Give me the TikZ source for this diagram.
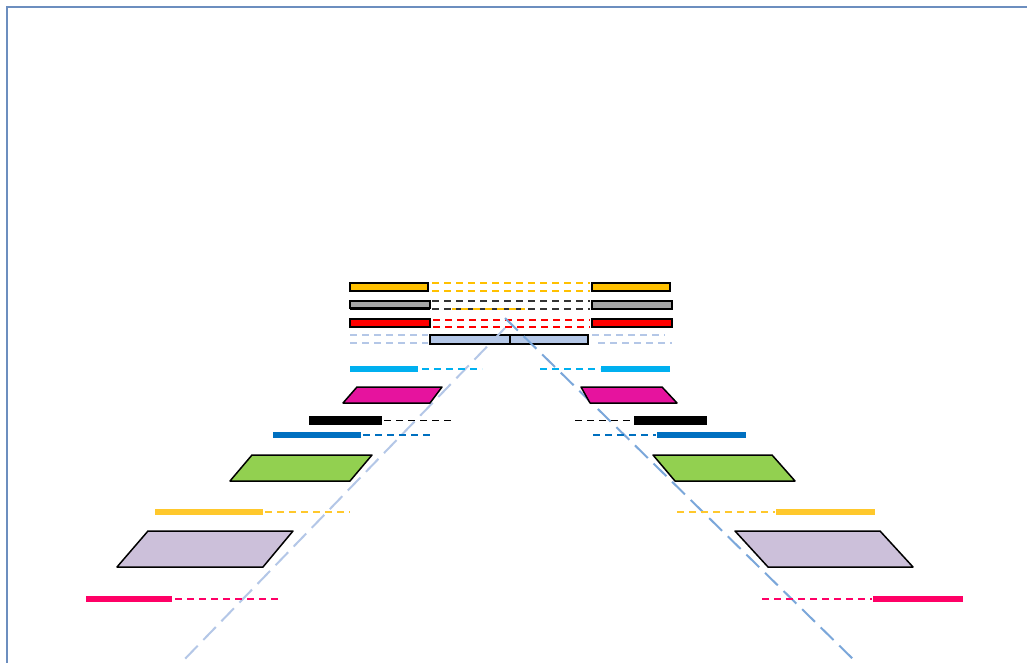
\documentclass[tikz,border=0pt]{standalone}
\begin{document}
\begin{tikzpicture}[x=1pt,y=-1pt,
  bar/.style={line width=6.5pt},
  dsh/.style={line width=1.9pt,dash pattern=on 7pt off 5pt},
  topbar/.style={draw=black,line width=1.6pt},
  para/.style={draw=black,line width=1.5pt,line join=round},
  diag/.style={line width=2pt,dash pattern=on 18pt off 8pt}]
\definecolor{frame}{HTML}{6C8EBF}
\definecolor{cyel}{HTML}{FFC000}
\definecolor{cgray}{HTML}{A6A6A6}
\definecolor{cred}{HTML}{FF0000}
\definecolor{cpale}{HTML}{B4C7E7}
\definecolor{cdiag}{HTML}{7BA7DA}
\definecolor{ccyan}{HTML}{00B0F0}
\definecolor{cmag}{HTML}{E6139E}
\definecolor{cblue}{HTML}{0070C0}
\definecolor{cgreen}{HTML}{92D050}
\definecolor{cgold}{HTML}{FFC82C}
\definecolor{clav}{HTML}{CCC0DA}
\definecolor{cpink}{HTML}{FF0066}
\useasboundingbox (0,0) rectangle (1027,663);
\clip (0,0) rectangle (1027,663);
\fill[white] (0,0) rectangle (1027,663);
% frame
\draw[frame,line width=2pt] (7,680) -- (7,7) -- (1040,7);

% top dashed rows
\draw[dsh,cyel] (432,283) -- (590,283);
\draw[dsh,cyel] (432,291) -- (590,291);
\draw[dsh,black!80] (432,301) -- (590,301);
\draw[dsh,black!80] (432,309) -- (590,309);
\draw[dsh,cyel,dash phase=3pt] (452,309) -- (525,309);
\draw[dsh,cred] (433,320) -- (590,320);
\draw[dsh,cred] (433,327) -- (590,327);
\draw[dsh,cpale] (350,335) -- (428,335);
\draw[dsh,cpale] (350,343) -- (428,343);
\draw[dsh,cpale] (592,335) -- (665,335);
\draw[dsh,cpale] (598,343) -- (672,343);

% top bars
\draw[topbar,fill=cyel] (350,283) rectangle (428,291);
\draw[topbar,fill=cyel] (592,283) rectangle (670,291);
\draw[topbar,fill=cgray] (350,301) rectangle (430,308);
\draw[black,line width=1.2pt] (350,309.5) -- (430,309.5);
\draw[topbar,fill=cgray] (592,301) rectangle (672,309);
\draw[topbar,fill=cred] (350,319) rectangle (430,327);
\draw[topbar,fill=cred] (592,319) rectangle (672,327);
\draw[draw=black,line width=1.3pt,fill=cpale] (430,335) rectangle (510,344);
\draw[draw=black,line width=1.3pt,fill=cpale] (510,335) rectangle (588,344);
\draw[black,line width=2pt] (510,335) -- (510,344);

% diagonal guide lines
\draw[diag,cpale] (505,328) -- (181,663);
\draw[diag,cdiag] (505,318) -- (857,663);

% cyan row
\draw[bar,ccyan] (350,369) -- (418,369);
\draw[dsh,ccyan] (422,369) -- (482,369);
\draw[dsh,ccyan] (540,369) -- (600,369);
\draw[bar,ccyan] (601,369) -- (670,369);

% magenta parallelograms
\draw[para,fill=cmag] (357,387) -- (442,387) -- (430,403) -- (343,403) -- cycle;
\draw[para,fill=cmag] (581,387) -- (662,387) -- (677,403) -- (590,403) -- cycle;

% black row
\draw[draw=black,fill=black] (309,416.5) rectangle (381,424.5);
\draw[dsh,black] (384,420.5) -- (452,420.5);
\draw[dsh,black] (575,420.5) -- (632,420.5);
\draw[draw=black,fill=black] (634,416.5) rectangle (706,424.5);

% blue row
\draw[bar,cblue] (273,435) -- (361,435);
\draw[dsh,cblue] (363,435) -- (432,435);
\draw[dsh,cblue] (593,435) -- (656,435);
\draw[bar,cblue] (657,435) -- (746,435);

% green parallelograms
\draw[para,fill=cgreen] (252,455) -- (372,455) -- (350,481) -- (230,481) -- cycle;
\draw[para,fill=cgreen] (653,455) -- (772,455) -- (795,481) -- (675,481) -- cycle;

% gold row
\draw[bar,cgold] (155,512) -- (263,512);
\draw[dsh,cgold] (265,512) -- (350,512);
\draw[dsh,cgold] (677,512) -- (775,512);
\draw[bar,cgold] (776,512) -- (875,512);

% lavender parallelograms
\draw[para,fill=clav] (148,531) -- (293,531) -- (263,567) -- (117,567) -- cycle;
\draw[para,fill=clav] (735,531) -- (880,531) -- (913,567) -- (768,567) -- cycle;

% pink row
\draw[bar,cpink] (86,599) -- (172,599);
\draw[dsh,cpink] (175,599) -- (282,599);
\draw[dsh,cpink] (762,599) -- (872,599);
\draw[bar,cpink] (873,599) -- (963,599);
\end{tikzpicture}
\end{document}
